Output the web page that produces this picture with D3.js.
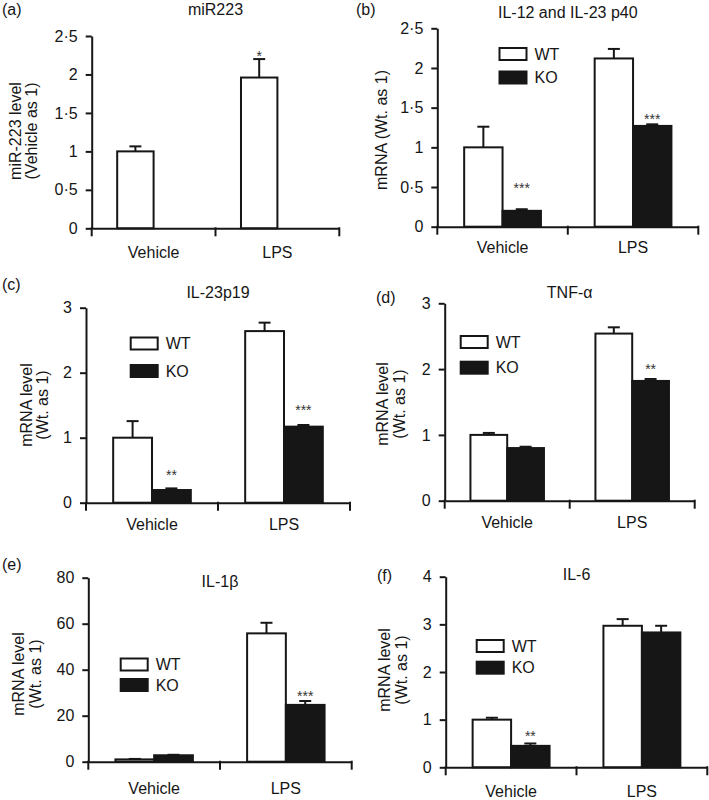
<!DOCTYPE html>
<html>
<head>
<meta charset="utf-8">
<script src="https://cdn.jsdelivr.net/npm/d3@7"></script>
<style>
  html, body { margin: 0; padding: 0; background: #fff; }
  svg { display: block; font-family: "Liberation Sans", Arial, Helvetica, sans-serif; }
</style>
</head>
<body>
<script>
// ---------------- DATA ----------------
const categories = ["Vehicle", "LPS"];
const series = ["WT", "KO"];
const panelLetters = ["(a)", "(b)", "(c)", "(d)", "(e)", "(f)"];
const titles = ["miR223", "IL-12 and IL-23 p40", "IL-23p19", "TNF-\u03b1", "IL-1\u03b2", "IL-6"];
const yLabels = [
  ["miR-223 level", "(Vehicle as 1)"],
  ["mRNA (Wt. as 1)"],
  ["mRNA level", "(Wt. as 1)"],
  ["mRNA level", "(Wt. as 1)"],
  ["mRNA level", "(Wt. as 1)"],
  ["mRNA level", "(Wt. as 1)"]
];
const yMax = [2.5, 2.5, 3, 3, 80, 4];
const yTicks = [
  [0, 0.5, 1, 1.5, 2, 2.5],
  [0, 0.5, 1, 1.5, 2, 2.5],
  [0, 1, 2, 3],
  [0, 1, 2, 3],
  [0, 20, 40, 60, 80],
  [0, 1, 2, 3, 4]
];
// means [Vehicle, LPS]
const wtMeans = [[1.0, 1.96], [1.0, 2.12], [1.0, 2.64], [1.0, 2.54], [1.0, 55.8], [1.0, 2.97]];
const wtErr   = [[0.065, 0.24], [0.26, 0.12], [0.255, 0.13], [0.03, 0.095], [0.2, 4.6], [0.04, 0.14]];
const koMeans = [null, [0.20, 1.27], [0.195, 1.17], [0.80, 1.82], [2.8, 24.7], [0.45, 2.83]];
const koErr   = [null, [0.02, 0.02], [0.025, 0.025], [0.02, 0.03], [0.2, 1.7], [0.05, 0.14]];
// significance marks: [category, series, text, level (data units)]
const sigMarks = [
  [["LPS", "WT", "*", 2.28]],
  [["Vehicle", "KO", "***", 0.52], ["LPS", "KO", "***", 1.39]],
  [["Vehicle", "KO", "**", 0.48], ["LPS", "KO", "***", 1.48]],
  [["LPS", "KO", "**", 2.05]],
  [["LPS", "KO", "***", 29.7]],
  [["Vehicle", "KO", "**", 0.73]]
];
const showLegend = [false, true, true, true, true, true];

// ---------------- LAYOUT ----------------
const layout = [
  {left: 91.7, right: 339.3, y0: 228.3, yTop: 36, letter: [2, 15], title: 15, ylab: [15.7, 31.7], ylabY: 131, xlab: 30},
  {left: 437.3, right: 698.3, y0: 226.7, yTop: 28.3, letter: [356, 15], title: 18, ylab: [381.5], ylabY: 130, xlab: 27, lg: [499.5, 48, 23.5]},
  {left: 86, right: 350, y0: 502.7, yTop: 307.7, letter: [2, 290], title: 298, ylab: [26.5, 42], ylabY: 405, xlab: 28, lg: [130.7, 337.5, 27.5]},
  {left: 444.7, right: 694.7, y0: 500.7, yTop: 303.3, letter: [376, 303], title: 298, ylab: [382, 399.5], ylabY: 404, xlab: 28, lg: [460.7, 336, 25.7]},
  {left: 88.3, right: 351.7, y0: 761.7, yTop: 577.7, letter: [2, 570], title: 587, ylab: [18.5, 35], ylabY: 674, xlab: 33, lg: [120.7, 658.5, 20.5]},
  {left: 445.7, right: 707.3, y0: 767.3, yTop: 576.7, letter: [377, 581], title: 580, ylab: [384, 401.5], ylabY: 670, xlab: 30, lg: [476.7, 640, 21.7]}
];

const W = 709, H = 800;
const FS = 16;
const ink = "#161616";

const svg = d3.select("body").append("svg")
  .attr("width", W).attr("height", H)
  .attr("viewBox", `0 0 ${W} ${H}`);
svg.append("rect").attr("width", W).attr("height", H).attr("fill", "#fff");

const fmt = d => String(d).replace(".", "\u00b7");

layout.forEach((L, i) => {
  const g = svg.append("g").attr("class", "panel");
  const y = d3.scaleLinear().domain([0, yMax[i]]).range([L.y0, L.yTop]);
  const x0 = d3.scaleBand().domain(categories).range([L.left, L.right]).paddingInner(0).paddingOuter(0);
  const x1 = d3.scaleBand().domain(series).range([0, x0.bandwidth()]).paddingInner(0).paddingOuter(0.7);

  // bars
  const rows = [];
  categories.forEach((c, ci) => {
    rows.push({c, s: "WT", v: wtMeans[i][ci], e: wtErr[i][ci]});
    if (koMeans[i]) rows.push({c, s: "KO", v: koMeans[i][ci], e: koErr[i][ci]});
  });
  g.selectAll("rect.bar").data(rows).join("rect")
    .attr("class", "bar")
    .attr("x", d => x0(d.c) + x1(d.s))
    .attr("width", x1.bandwidth())
    .attr("y", d => y(d.v))
    .attr("height", d => y(0) - y(d.v))
    .attr("fill", d => d.s === "WT" ? "#fff" : ink)
    .attr("stroke", ink).attr("stroke-width", 2);

  // error bars (upper only)
  const eb = g.selectAll("g.err").data(rows).join("g").attr("class", "err")
    .attr("stroke", ink).attr("stroke-width", 2);
  eb.append("line")
    .attr("x1", d => x0(d.c) + x1(d.s) + x1.bandwidth() / 2)
    .attr("x2", d => x0(d.c) + x1(d.s) + x1.bandwidth() / 2)
    .attr("y1", d => y(d.v))
    .attr("y2", d => y(d.v + d.e));
  eb.append("line")
    .attr("x1", d => x0(d.c) + x1(d.s) + x1.bandwidth() / 2 - 6)
    .attr("x2", d => x0(d.c) + x1(d.s) + x1.bandwidth() / 2 + 6)
    .attr("y1", d => y(d.v + d.e))
    .attr("y2", d => y(d.v + d.e));

  // significance
  g.selectAll("text.sig").data(sigMarks[i]).join("text")
    .attr("class", "sig")
    .attr("x", d => x0(d[0]) + x1(d[1]) + x1.bandwidth() / 2)
    .attr("y", d => y(d[3]) + 8)
    .attr("text-anchor", "middle")
    .attr("font-size", 14)
    .attr("fill", "#333")
    .text(d => d[2]);

  // y axis
  const ya = g.append("g").attr("transform", `translate(${L.left},0)`)
    .call(d3.axisLeft(y).tickValues(yTicks[i]).tickFormat(fmt).tickSizeInner(6).tickSizeOuter(0).tickPadding(8));
  ya.select(".domain").attr("stroke", ink).attr("stroke-width", 2);
  ya.selectAll(".tick line").attr("stroke", ink).attr("stroke-width", 2);
  ya.selectAll(".tick text").attr("font-size", FS).attr("fill", ink).attr("font-family", null);

  // x axis
  const xa = g.append("g").attr("transform", `translate(0,${L.y0})`)
    .call(d3.axisBottom(x0).tickSize(0).tickSizeOuter(0).tickPadding(L.xlab - 12));
  xa.select(".domain").attr("stroke", ink).attr("stroke-width", 2);
  xa.selectAll(".tick text").attr("font-size", FS).attr("fill", ink).attr("font-family", null);
  const bounds = categories.map(c => x0(c)).concat([x0(categories[categories.length - 1]) + x0.bandwidth()]);
  xa.selectAll("line.bnd").data(bounds).join("line").attr("class", "bnd")
    .attr("x1", d => d).attr("x2", d => d).attr("y1", -1).attr("y2", 8)
    .attr("stroke", ink).attr("stroke-width", 2);

  // title
  g.append("text")
    .attr("x", (L.left + L.right) / 2).attr("y", L.title)
    .attr("text-anchor", "middle").attr("font-size", FS).attr("fill", ink)
    .text(titles[i]);
  // letter
  g.append("text")
    .attr("x", L.letter[0]).attr("y", L.letter[1])
    .attr("font-size", FS).attr("fill", ink)
    .text(panelLetters[i]);
  // y label
  yLabels[i].forEach((t, k) => {
    g.append("text")
      .attr("transform", `translate(${L.ylab[k]},${L.ylabY}) rotate(-90)`)
      .attr("text-anchor", "middle").attr("dy", "0.35em")
      .attr("font-size", FS).attr("fill", ink)
      .text(t);
  });
  // legend
  if (showLegend[i]) {
    series.forEach((s, k) => {
      const ly = L.lg[1] + k * L.lg[2];
      g.append("rect")
        .attr("x", L.lg[0]).attr("y", ly).attr("width", 27).attr("height", 12)
        .attr("fill", s === "WT" ? "#fff" : ink).attr("stroke", ink).attr("stroke-width", 2);
      g.append("text")
        .attr("x", L.lg[0] + 35).attr("y", ly + 6).attr("dy", "0.35em")
        .attr("font-size", FS).attr("fill", ink)
        .text(s);
    });
  }
});
</script>
</body>
</html>
